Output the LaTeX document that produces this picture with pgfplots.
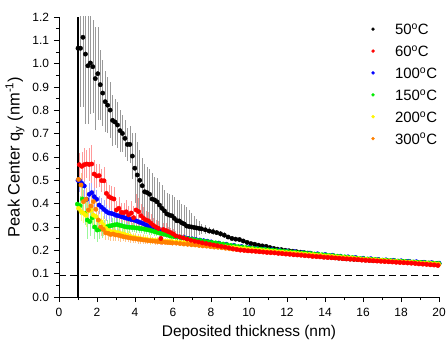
\documentclass[border=0pt]{standalone}
\usepackage{fontspec}
\setmainfont{Liberation Sans}
\usepackage{pgfplots}
\usepackage{pgfplotstable}
\pgfplotsset{compat=1.18}
\definecolor{cblack}{RGB}{0,0,0}
\definecolor{cred}{RGB}{255,0,0}
\definecolor{cblue}{RGB}{0,0,255}
\definecolor{cgreen}{RGB}{0,235,0}
\definecolor{cyellow}{RGB}{255,245,0}
\definecolor{corange}{RGB}{255,128,0}

\pgfplotstableread{
x y e
1.00 1.066 0
1.13 1.066 0.25
1.26 1.113 0.30
1.39 1.041 0.30
1.52 0.991 0.25
1.65 1.003 0.22
1.78 0.987 0.20
1.91 0.936 0.22
2.04 0.957 0.20
2.17 0.910 0.15
2.30 0.874 0.14
2.43 0.837 0.13
2.56 0.822 0.12
2.69 0.801 0.12
2.82 0.757 0.11
2.95 0.750 0.10
3.08 0.737 0.10
3.21 0.713 0.09
3.34 0.701 0.08
3.47 0.680 0.08
3.60 0.654 0.07
3.73 0.654 0.08
3.86 0.604 0.10
3.99 0.552 0.15
4.12 0.523 0.14
4.25 0.500 0.13
4.38 0.477 0.12
4.51 0.451 0.12
4.64 0.447 0.11
4.77 0.440 0.11
4.90 0.420 0.11
5.03 0.416 0.10
5.16 0.408 0.10
5.29 0.394 0.10
5.42 0.380 0.10
5.55 0.369 0.09
5.68 0.356 0.09
5.81 0.351 0.09
5.94 0.348 0.09
6.07 0.337 0.09
6.20 0.327 0.09
6.33 0.326 0.09
6.46 0.318 0.08
6.59 0.313 0.08
6.72 0.304 0.08
6.85 0.302 0.07
6.98 0.300 0.06
7.11 0.298 0.05
7.24 0.296 0.04
7.37 0.294 0.03
7.50 0.292 0.02
7.70 0.288 0.02
7.90 0.283 0.015
8.10 0.280 0.015
8.30 0.276 0.012
8.50 0.271 0.012
8.70 0.265 0.012
8.90 0.257 0.01
9.10 0.251 0.01
9.30 0.248 0.01
9.50 0.246 0.01
9.70 0.240 0.008
9.90 0.234 0.008
10.1 0.229 0.008
10.3 0.226 0.008
10.5 0.222 0.008
10.7 0.219 0.008
10.9 0.217 0.008
11.1 0.212 0.007
11.3 0.208 0.007
11.5 0.205 0.007
11.7 0.203 0.007
11.9 0.200 0.007
12.1 0.198 0.006
12.3 0.196 0.006
12.5 0.194 0.006
12.7 0.192 0.006
12.9 0.190 0.006
13.1 0.188 0.006
13.3 0.185 0.006
13.5 0.182 0.006
13.7 0.178 0.005
13.9 0.175 0.005
14.1 0.173 0.005
14.3 0.171 0.005
14.5 0.169 0.005
14.7 0.167 0.005
14.9 0.166 0.005
15.1 0.164 0.005
15.3 0.163 0.005
15.5 0.162 0.005
15.7 0.161 0.005
15.9 0.160 0.005
16.1 0.159 0.005
16.3 0.158 0.004
16.5 0.157 0.004
16.7 0.156 0.004
16.9 0.156 0.004
17.1 0.155 0.004
17.3 0.155 0.004
17.5 0.154 0.004
17.7 0.154 0.004
17.9 0.153 0.004
18.1 0.152 0.004
18.3 0.151 0.004
18.5 0.150 0.004
18.7 0.149 0.004
18.9 0.148 0.004
19.1 0.147 0.004
19.3 0.146 0.004
19.5 0.145 0.004
19.7 0.145 0.004
19.9 0.144 0.004
20.0 0.143 0.004
}\tblA

\pgfplotstableread{
x y e
1.07 0.567 0.05
1.20 0.560 0.06
1.33 0.567 0.07
1.46 0.570 0.06
1.59 0.568 0.07
1.72 0.570 0.08
1.85 0.527 0.06
1.98 0.519 0.05
2.11 0.520 0.05
2.24 0.499 0.05
2.37 0.498 0.06
2.50 0.444 0.05
2.63 0.430 0.05
2.76 0.424 0.05
2.89 0.420 0.05
3.02 0.373 0.04
3.15 0.380 0.05
3.28 0.363 0.04
3.41 0.361 0.04
3.54 0.365 0.05
3.67 0.352 0.04
3.80 0.360 0.05
3.93 0.340 0.05
4.06 0.373 0.07
4.19 0.366 0.06
4.32 0.348 0.05
4.45 0.337 0.05
4.58 0.330 0.04
4.71 0.326 0.04
4.84 0.316 0.04
4.97 0.307 0.03
5.10 0.300 0.03
5.23 0.294 0.03
5.36 0.251 0.03
5.49 0.289 0.03
5.62 0.285 0.03
5.75 0.280 0.02
5.88 0.276 0.02
6.01 0.270 0.02
6.14 0.262 0.02
6.34 0.258 0.015
6.54 0.253 0.015
6.74 0.248 0.012
6.94 0.243 0.012
7.14 0.239 0.01
7.34 0.236 0.01
7.54 0.232 0.01
7.74 0.229 0.01
7.94 0.226 0.01
8.14 0.223 0.008
8.34 0.220 0.008
8.54 0.217 0.008
8.74 0.214 0.008
8.94 0.211 0.008
9.14 0.207 0.007
9.34 0.204 0.007
9.54 0.201 0.007
9.74 0.200 0.007
9.94 0.198 0.007
10.14 0.197 0.006
10.34 0.196 0.006
10.54 0.194 0.006
10.74 0.193 0.006
10.94 0.191 0.006
11.14 0.190 0.006
11.34 0.189 0.006
11.54 0.187 0.006
11.74 0.186 0.006
11.94 0.184 0.006
12.14 0.183 0.005
12.34 0.181 0.005
12.54 0.180 0.005
12.74 0.179 0.005
12.94 0.177 0.005
13.14 0.176 0.005
13.34 0.174 0.005
13.54 0.173 0.005
13.74 0.172 0.005
13.94 0.170 0.005
14.14 0.169 0.005
14.34 0.168 0.005
14.54 0.167 0.005
14.74 0.166 0.005
14.94 0.164 0.005
15.14 0.163 0.005
15.34 0.162 0.005
15.54 0.161 0.005
15.74 0.160 0.005
15.94 0.158 0.005
16.14 0.157 0.005
16.34 0.156 0.005
16.54 0.155 0.005
16.74 0.154 0.005
16.94 0.153 0.005
17.14 0.152 0.005
17.34 0.151 0.005
17.54 0.150 0.005
17.74 0.149 0.005
17.94 0.148 0.005
18.14 0.147 0.005
18.34 0.146 0.005
18.54 0.145 0.005
18.74 0.144 0.005
18.94 0.142 0.005
19.14 0.141 0.005
19.34 0.140 0.005
19.54 0.138 0.005
19.74 0.137 0.005
19.94 0.135 0.005
}\tblB

\pgfplotstableread{
x y e
1.00 0.500 0.05
1.07 0.500 0.05
1.20 0.487 0.05
1.33 0.476 0.05
1.46 0.419 0.05
1.59 0.440 0.05
1.72 0.447 0.05
1.85 0.430 0.05
1.98 0.419 0.04
2.11 0.394 0.04
2.24 0.385 0.04
2.37 0.375 0.04
2.50 0.366 0.04
2.63 0.360 0.035
2.76 0.358 0.035
2.89 0.355 0.03
3.02 0.350 0.03
3.15 0.348 0.03
3.28 0.344 0.03
3.41 0.341 0.03
3.54 0.338 0.03
3.67 0.335 0.03
3.80 0.332 0.03
3.93 0.330 0.03
4.06 0.326 0.025
4.19 0.322 0.025
4.32 0.318 0.025
4.45 0.314 0.025
4.58 0.309 0.02
4.71 0.304 0.02
4.84 0.300 0.02
4.97 0.296 0.02
5.10 0.291 0.02
5.23 0.286 0.02
5.36 0.281 0.02
5.49 0.276 0.015
5.62 0.273 0.015
5.75 0.270 0.015
5.88 0.266 0.015
6.01 0.263 0.015
6.21 0.259 0.01
6.41 0.256 0.01
6.61 0.254 0.01
6.81 0.251 0.01
7.01 0.249 0.01
7.21 0.246 0.01
7.41 0.244 0.01
7.61 0.241 0.01
7.81 0.239 0.01
8.01 0.236 0.008
8.41 0.231 0.008
8.81 0.226 0.008
9.21 0.221 0.007
9.61 0.216 0.007
10.01 0.212 0.006
10.41 0.209 0.006
10.81 0.206 0.006
11.21 0.203 0.006
11.61 0.200 0.006
12.01 0.197 0.005
12.41 0.194 0.005
12.81 0.191 0.005
13.21 0.188 0.005
13.61 0.185 0.005
14.01 0.182 0.005
14.41 0.179 0.005
14.81 0.175 0.005
15.21 0.172 0.005
15.61 0.169 0.005
16.01 0.166 0.005
16.41 0.164 0.005
16.81 0.161 0.005
17.21 0.159 0.005
17.61 0.157 0.005
18.01 0.155 0.005
18.41 0.153 0.005
18.81 0.151 0.005
19.21 0.149 0.005
19.61 0.147 0.005
20.00 0.145 0.005
}\tblC

\pgfplotstableread{
x y e
0.97 0.398 0.03
1.10 0.391 0.04
1.23 0.420 0.06
1.36 0.359 0.05
1.49 0.330 0.08
1.62 0.323 0.06
1.75 0.340 0.05
1.88 0.300 0.05
2.01 0.287 0.05
2.14 0.290 0.04
2.27 0.292 0.04
2.40 0.298 0.03
2.53 0.301 0.03
2.66 0.304 0.03
2.79 0.307 0.03
2.92 0.309 0.03
3.05 0.311 0.03
3.18 0.308 0.03
3.31 0.305 0.025
3.44 0.302 0.025
3.57 0.300 0.025
3.70 0.299 0.025
3.83 0.298 0.02
3.96 0.297 0.02
4.09 0.296 0.02
4.22 0.294 0.02
4.35 0.293 0.02
4.48 0.291 0.02
4.61 0.289 0.02
4.74 0.287 0.02
4.87 0.284 0.02
5.00 0.281 0.02
5.13 0.278 0.015
5.26 0.275 0.015
5.39 0.272 0.015
5.52 0.270 0.015
5.65 0.267 0.015
5.78 0.264 0.015
5.91 0.261 0.015
6.04 0.259 0.012
6.24 0.257 0.01
6.44 0.254 0.01
6.64 0.252 0.01
6.84 0.249 0.01
7.04 0.247 0.01
7.24 0.244 0.01
7.44 0.242 0.01
7.64 0.239 0.01
7.84 0.237 0.01
8.04 0.234 0.008
8.24 0.232 0.008
8.44 0.229 0.008
8.64 0.227 0.008
8.84 0.224 0.008
9.04 0.221 0.007
9.24 0.219 0.007
9.44 0.216 0.007
9.64 0.214 0.007
9.84 0.212 0.007
10.04 0.210 0.006
10.24 0.208 0.006
10.44 0.207 0.006
10.64 0.205 0.006
10.84 0.204 0.006
11.04 0.202 0.006
11.24 0.201 0.006
11.44 0.199 0.006
11.64 0.198 0.006
11.84 0.196 0.006
12.04 0.195 0.005
12.24 0.193 0.005
12.44 0.192 0.005
12.64 0.190 0.005
12.84 0.189 0.005
13.04 0.187 0.005
13.24 0.186 0.005
13.44 0.184 0.005
13.64 0.183 0.005
13.84 0.181 0.005
14.04 0.180 0.005
14.24 0.178 0.005
14.44 0.177 0.005
14.64 0.175 0.005
14.84 0.173 0.005
15.04 0.172 0.005
15.24 0.170 0.005
15.44 0.169 0.005
15.64 0.167 0.005
15.84 0.165 0.005
16.04 0.164 0.005
16.24 0.163 0.005
16.44 0.162 0.005
16.64 0.161 0.005
16.84 0.159 0.005
17.04 0.158 0.005
17.24 0.157 0.005
17.44 0.156 0.005
17.64 0.155 0.005
17.84 0.154 0.005
18.04 0.153 0.005
18.24 0.152 0.005
18.44 0.151 0.005
18.64 0.150 0.005
18.84 0.149 0.005
19.04 0.148 0.005
19.24 0.147 0.005
19.44 0.146 0.005
19.64 0.145 0.005
19.84 0.144 0.005
20.00 0.143 0.005
}\tblD

\pgfplotstableread{
x y e
1.03 0.380 0.04
1.16 0.366 0.04
1.29 0.359 0.04
1.42 0.350 0.05
1.55 0.369 0.05
1.68 0.372 0.05
1.81 0.351 0.05
1.94 0.345 0.05
2.07 0.330 0.04
2.20 0.323 0.04
2.33 0.309 0.04
2.46 0.294 0.04
2.59 0.285 0.03
2.72 0.280 0.03
2.85 0.279 0.03
2.98 0.277 0.03
3.11 0.275 0.03
3.24 0.272 0.025
3.37 0.270 0.025
3.50 0.266 0.025
3.63 0.263 0.02
3.76 0.260 0.02
3.89 0.256 0.02
4.02 0.254 0.02
4.15 0.252 0.02
4.28 0.250 0.02
4.41 0.248 0.02
4.54 0.247 0.02
4.67 0.245 0.02
4.80 0.244 0.02
4.93 0.243 0.015
5.06 0.242 0.015
5.19 0.241 0.015
5.32 0.240 0.015
5.45 0.240 0.015
5.58 0.239 0.015
5.71 0.238 0.015
5.84 0.238 0.015
5.97 0.237 0.012
6.17 0.236 0.01
6.37 0.234 0.01
6.57 0.233 0.01
6.77 0.231 0.01
6.97 0.229 0.01
7.17 0.228 0.01
7.37 0.226 0.01
7.57 0.225 0.01
7.77 0.223 0.01
7.97 0.221 0.01
8.17 0.220 0.008
8.37 0.218 0.008
8.57 0.216 0.008
8.77 0.215 0.008
8.97 0.213 0.008
9.17 0.212 0.007
9.37 0.210 0.007
9.57 0.208 0.007
9.77 0.207 0.007
9.97 0.205 0.007
10.17 0.204 0.006
10.37 0.202 0.006
10.57 0.201 0.006
10.77 0.199 0.006
10.97 0.198 0.006
11.17 0.196 0.006
11.37 0.195 0.006
11.57 0.193 0.006
11.77 0.192 0.006
11.97 0.190 0.006
12.17 0.189 0.005
12.37 0.188 0.005
12.57 0.186 0.005
12.77 0.185 0.005
12.97 0.183 0.005
13.17 0.182 0.005
13.37 0.181 0.005
13.57 0.179 0.005
13.77 0.178 0.005
13.97 0.176 0.005
14.17 0.175 0.005
14.37 0.174 0.005
14.57 0.172 0.005
14.77 0.171 0.005
14.97 0.169 0.005
15.17 0.168 0.005
15.37 0.167 0.005
15.57 0.165 0.005
15.77 0.164 0.005
15.97 0.162 0.005
16.17 0.161 0.005
16.37 0.160 0.005
16.57 0.159 0.005
16.77 0.158 0.005
16.97 0.157 0.005
17.17 0.156 0.005
17.37 0.154 0.005
17.57 0.153 0.005
17.77 0.152 0.005
17.97 0.151 0.005
18.17 0.150 0.005
18.37 0.149 0.005
18.57 0.148 0.005
18.77 0.147 0.005
18.97 0.146 0.005
19.17 0.145 0.005
19.37 0.144 0.005
19.57 0.143 0.005
19.77 0.142 0.005
19.97 0.141 0.005
}\tblE

\pgfplotstableread{
x y e
1.03 0.504 0.04
1.16 0.480 0.05
1.29 0.409 0.05
1.42 0.419 0.05
1.55 0.373 0.05
1.68 0.390 0.05
1.81 0.409 0.05
1.94 0.376 0.05
2.07 0.330 0.04
2.20 0.300 0.04
2.33 0.290 0.03
2.46 0.275 0.03
2.59 0.273 0.03
2.72 0.268 0.03
2.85 0.270 0.03
2.98 0.266 0.025
3.11 0.265 0.025
3.24 0.262 0.025
3.37 0.259 0.02
3.50 0.257 0.02
3.63 0.255 0.02
3.76 0.253 0.02
3.89 0.251 0.02
4.02 0.250 0.02
4.15 0.248 0.02
4.28 0.247 0.02
4.41 0.245 0.02
4.54 0.244 0.015
4.67 0.242 0.015
4.80 0.241 0.015
4.93 0.240 0.015
5.06 0.239 0.015
5.19 0.238 0.015
5.32 0.237 0.015
5.45 0.236 0.015
5.58 0.235 0.012
5.71 0.234 0.012
5.84 0.233 0.012
5.97 0.232 0.012
6.17 0.231 0.01
6.37 0.229 0.01
6.57 0.227 0.01
6.77 0.226 0.01
6.97 0.224 0.01
7.17 0.223 0.01
7.37 0.221 0.01
7.57 0.219 0.01
7.77 0.218 0.01
7.97 0.216 0.01
8.17 0.214 0.008
8.37 0.213 0.008
8.57 0.211 0.008
8.77 0.209 0.008
8.97 0.207 0.008
9.17 0.205 0.007
9.37 0.204 0.007
9.57 0.202 0.007
9.77 0.200 0.007
9.97 0.198 0.007
10.17 0.197 0.006
10.37 0.196 0.006
10.57 0.195 0.006
10.77 0.193 0.006
10.97 0.192 0.006
11.17 0.191 0.006
11.37 0.190 0.006
11.57 0.189 0.006
11.77 0.187 0.006
11.97 0.186 0.006
12.17 0.185 0.005
12.37 0.183 0.005
12.57 0.182 0.005
12.77 0.181 0.005
12.97 0.179 0.005
13.17 0.178 0.005
13.37 0.176 0.005
13.57 0.175 0.005
13.77 0.174 0.005
13.97 0.172 0.005
14.17 0.171 0.005
14.37 0.170 0.005
14.57 0.168 0.005
14.77 0.167 0.005
14.97 0.166 0.005
15.17 0.165 0.005
15.37 0.164 0.005
15.57 0.163 0.005
15.77 0.161 0.005
15.97 0.160 0.005
16.17 0.159 0.005
16.37 0.158 0.005
16.57 0.157 0.005
16.77 0.155 0.005
16.97 0.154 0.005
17.17 0.153 0.005
17.37 0.152 0.005
17.57 0.151 0.005
17.77 0.150 0.005
17.97 0.149 0.005
18.17 0.148 0.005
18.37 0.147 0.005
18.57 0.146 0.005
18.77 0.144 0.005
18.97 0.143 0.005
19.17 0.142 0.005
19.37 0.141 0.005
19.57 0.140 0.005
19.77 0.139 0.005
19.97 0.138 0.005
}\tblF

\pgfplotsset{
  ser/.style 2 args={only marks, mark=*, mark size=2.2bp, color=#1,
    mark options={draw=none, fill=#1},
    error bars/.cd, y dir=both, y explicit, error mark=none,
    error bar style={color=#2, line width=0.5bp}, /pgfplots/.cd},
}

\begin{document}
\begin{tikzpicture}
\begin{axis}[
  scale only axis, width=380bp, height=280bp,
  xmin=0, xmax=20, ymin=0, ymax=1.2,
  axis lines=left, axis line style={-, line width=0.6bp},
  xtick={0,2,4,6,8,10,12,14,16,18,20}, minor x tick num=1,
  ytick={0,0.1,0.2,0.3,0.4,0.5,0.6,0.7,0.8,0.9,1.0,1.1,1.2}, minor y tick num=1,
  tick align=outside, major tick length=5bp, minor tick length=3bp,
  tick style={black, line width=0.6bp},
  yticklabel style={/pgf/number format/.cd, fixed, fixed zerofill, precision=1, /tikz/.cd, xshift=-1.5bp},
  xticklabel style={yshift=-2.5bp},
  /pgf/number format/assume math mode=true,
  tick label style={font=\fontsize{12}{14}\selectfont},
  xlabel style={font=\fontsize{15.5}{17}\selectfont, yshift=-2bp},
  ylabel style={font=\fontsize{16.5}{18}\selectfont, yshift=1bp},
  xlabel={Deposited thickness (nm)},
  ylabel={Peak Center q\textsubscript{y} (nm\textsuperscript{-1})},
  legend style={at={(0.818,0.977)}, anchor=north west, draw=none, fill=none,
    font=\fontsize{15}{17}\selectfont, row sep=10.9bp, inner sep=0pt,
    nodes={inner sep=0pt, text height=11bp, text depth=0bp}},
  legend cell align=left,
  legend image code/.code={\path[draw=none, fill=none] (-3bp,0) -- (22bp,0); \draw[#1] plot coordinates {(0bp,0bp)};},
]
\addplot[forget plot, ser={cblack}{black!40}] table[x=x, y=y, y error=e] {\tblA};
\addplot[forget plot, ser={cblue}{cblue!35}] table[x=x, y=y, y error=e] {\tblC};
\addplot[forget plot, ser={cgreen}{cgreen!40}] table[x=x, y=y, y error=e] {\tblD};
\addplot[forget plot, ser={cyellow}{cyellow!50}] table[x=x, y=y, y error=e] {\tblE};
\addplot[forget plot, ser={corange}{corange!45}] table[x=x, y=y, y error=e] {\tblF};
\addplot[forget plot, ser={cred}{cred!40}] table[x=x, y=y, y error=e] {\tblB};
\addplot[black, line width=1.2bp, forget plot] coordinates {(1,0) (1,1.2)};
\addplot[black, line width=1bp, dash pattern=on 7bp off 4bp, forget plot] coordinates {(0,0.09) (20,0.09)};
\addlegendimage{only marks, mark=*, mark size=1.5bp, cblack}
\addlegendentry{50\textsuperscript{o}C}
\addlegendimage{only marks, mark=*, mark size=1.5bp, cred}
\addlegendentry{60\textsuperscript{o}C}
\addlegendimage{only marks, mark=*, mark size=1.5bp, cblue}
\addlegendentry{100\textsuperscript{o}C}
\addlegendimage{only marks, mark=*, mark size=1.5bp, cgreen}
\addlegendentry{150\textsuperscript{o}C}
\addlegendimage{only marks, mark=*, mark size=1.5bp, cyellow}
\addlegendentry{200\textsuperscript{o}C}
\addlegendimage{only marks, mark=*, mark size=1.5bp, corange}
\addlegendentry{300\textsuperscript{o}C}
\end{axis}
\pgfresetboundingbox
\path[use as bounding box] ([xshift=-59bp,yshift=-45bp]current axis.south west) rectangle ([xshift=7bp,yshift=17bp]current axis.north east);
\end{tikzpicture}
\end{document}
